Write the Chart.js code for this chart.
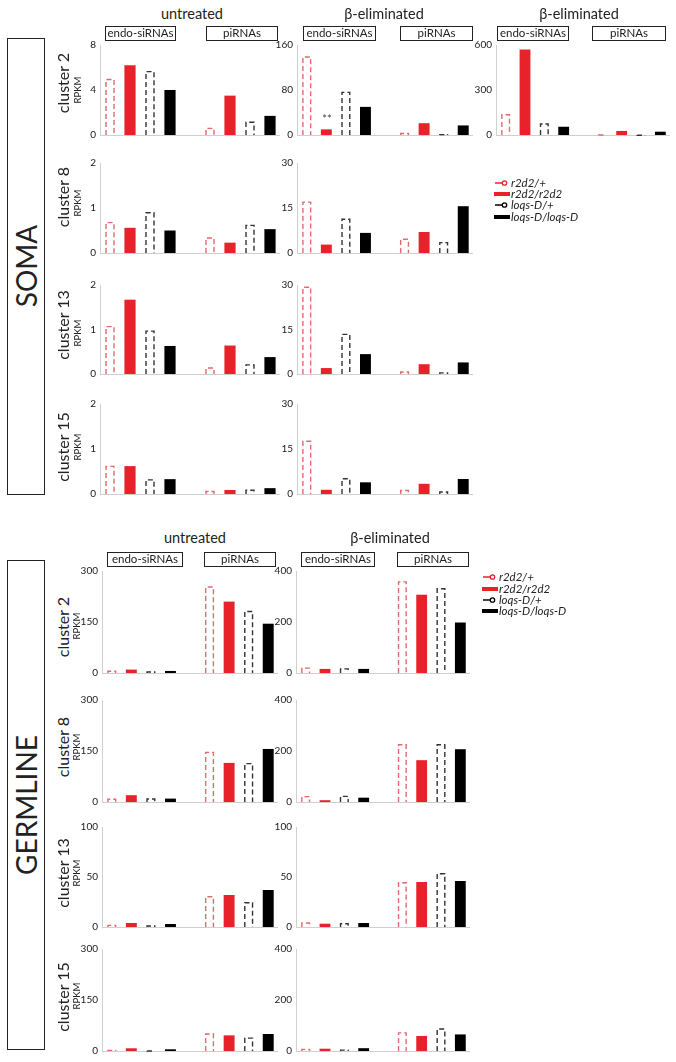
<!DOCTYPE html>
<html>
<head>
<meta charset="utf-8">
<script src="https://cdn.jsdelivr.net/npm/chart.js@4.4.1/dist/chart.umd.min.js"></script>
<style>
  html, body { margin: 0; padding: 0; background: #fff; }
  #root { position: relative; width: 676px; height: 1062px; overflow: hidden; font-family: Lato, "Open Sans", sans-serif; color: #222; }
  .abs { position: absolute; }
  .ctr { position: absolute; transform: translate(-50%, -50%); white-space: nowrap; }
  .rot { position: absolute; transform: translate(-50%, -50%) rotate(-90deg); white-space: nowrap; }
  .box { position: absolute; box-sizing: border-box; border: 1.5px solid #222; text-align: center; font-size: 11.5px; line-height: 12px; }
  .title { font-size: 14.5px; }
  .clu { font-size: 16px; }
  .rpkm { font-size: 9.5px; }
  .big { font-size: 28px; }
  .secbox { position: absolute; box-sizing: border-box; border: 1.5px solid #222; }
  .leg { position: absolute; font-size: 11.5px; font-style: italic; white-space: nowrap; line-height: 12px; }
  canvas { position: absolute; }
</style>
</head>
<body>
<div id="root"></div>
<script>
// ---------------- DATA ----------------
const genotypes = ['r2d2/+', 'r2d2/r2d2', 'loqs-D/+', 'loqs-D/loqs-D'];
const rnaClasses = ['endo-siRNAs', 'piRNAs'];
const rowNames = ['cluster 2', 'cluster 8', 'cluster 13', 'cluster 15'];

// each: [endo-siRNAs values per genotype], [piRNAs values per genotype]  (RPKM)
const somaC2Untreated  = [[5.0, 6.2, 5.7, 4.0], [0.65, 3.5, 1.2, 1.7]];
const somaC2Beta       = [[140, 10, 77, 50], [4, 21, 2, 17]];
const somaC2BetaWide   = [[140, 570, 78, 55], [5, 27, 3, 22]];
const somaC8Untreated  = [[0.69, 0.56, 0.91, 0.50], [0.35, 0.23, 0.63, 0.53]];
const somaC8Beta       = [[17.2, 2.8, 11.5, 6.7], [4.8, 7.0, 3.7, 15.6]];
const somaC13Untreated = [[1.08, 1.67, 0.98, 0.63], [0.15, 0.64, 0.22, 0.38]];
const somaC13Beta      = [[29.5, 2.0, 13.6, 6.7], [0.9, 3.3, 0.6, 3.9]];
const somaC15Untreated = [[0.63, 0.62, 0.33, 0.33], [0.07, 0.09, 0.10, 0.13]];
const somaC15Beta      = [[17.8, 1.4, 5.3, 3.9], [1.4, 3.4, 0.9, 5.0]];

const germC2Untreated  = [[7, 10, 5, 6], [255, 210, 183, 145]];
const germC2Beta       = [[22, 16, 19, 16], [360, 307, 333, 198]];
const germC8Untreated  = [[10, 20, 11, 10], [148, 115, 115, 156]];
const germC8Beta       = [[24, 7, 25, 17], [227, 164, 227, 207]];
const germC13Untreated = [[2.3, 4, 1.7, 3], [31, 32, 25, 37]];
const germC13Beta      = [[4.7, 3.3, 4, 4], [45, 45, 54, 46]];
const germC15Untreated = [[4, 8, 2, 5], [52, 46, 40, 50]];
const germC15Beta      = [[9, 9, 6, 11], [74, 59, 89, 65]];

// y-axis maxima (tick labels at 0, max/2, max)
const somaUntreatedMax = [8, 2, 2, 2];
const somaBetaMax      = [160, 30, 30, 30];
const somaBetaWideMax  = 600;
const germUntreatedMax = [300, 300, 100, 300];
const germBetaMax      = [400, 400, 100, 400];

// ---------------- STYLE ----------------
const RED = '#e8222a', RED_DASH = '#e26a6a', BLACK = '#000', BLACK_DASH = '#333';
const seriesStyle = [
  { dashed: true,  color: RED_DASH },
  { dashed: false, color: RED },
  { dashed: true,  color: BLACK_DASH },
  { dashed: false, color: BLACK }
];

Chart.defaults.font.family = 'Lato, "Open Sans", sans-serif';

const root = document.getElementById('root');

function el(cls, html, css) {
  const d = document.createElement('div');
  d.className = cls;
  d.innerHTML = html;
  Object.assign(d.style, css);
  root.appendChild(d);
  return d;
}

const dashedBars = {
  id: 'dashedBars',
  afterDatasetsDraw(chart) {
    const ctx = chart.ctx;
    chart.data.datasets.forEach((ds, i) => {
      if (!ds.dashed) return;
      const meta = chart.getDatasetMeta(i);
      meta.data.forEach((bar, j) => {
        if (ds.data[j] == null) return;
        const p = bar.getProps(['x', 'y', 'base', 'width'], true);
        const lw = 1.4, inset = 1.6;
        const l = p.x - p.width / 2 + inset, r = p.x + p.width / 2 - inset;
        const t = p.y + lw / 2;
        ctx.save();
        ctx.strokeStyle = ds.dashColor;
        ctx.lineWidth = lw;
        ctx.setLineDash([5, 3]);
        ctx.beginPath();
        ctx.moveTo(l, p.base);
        ctx.lineTo(l, t);
        ctx.lineTo(r, t);
        ctx.lineTo(r, p.base);
        ctx.stroke();
        ctx.restore();
      });
    });
  }
};

const slotLabels = [
  ...genotypes.map(g => rnaClasses[0] + ' ' + g), '',
  ...genotypes.map(g => rnaClasses[1] + ' ' + g)
];

function panel(axisX, width, yTop, yBottom, yMax, values) {
  const LEFT = 30, PAD = 10;
  const c = document.createElement('canvas');
  const W = LEFT + width, H = (yBottom - yTop) + 2 * PAD;
  c.width = W; c.height = H;
  c.style.left = (axisX - LEFT) + 'px';
  c.style.top = (yTop - PAD) + 'px';
  c.style.width = W + 'px'; c.style.height = H + 'px';
  root.appendChild(c);
  const datasets = genotypes.map((g, i) => {
    const data = new Array(9).fill(null);
    data[i] = values[0][i];
    data[5 + i] = values[1][i];
    const st = seriesStyle[i];
    return {
      label: g,
      data,
      dashed: st.dashed,
      dashColor: st.color,
      backgroundColor: st.dashed ? 'rgba(0,0,0,0)' : st.color,
      borderWidth: 0,
      skipNull: true,
      categoryPercentage: 1,
      barPercentage: 0.56
    };
  });
  new Chart(c, {
    type: 'bar',
    data: { labels: slotLabels, datasets },
    options: {
      responsive: false,
      animation: false,
      devicePixelRatio: 1,
      layout: { padding: { top: PAD, bottom: PAD, left: 0, right: 0 } },
      plugins: { legend: { display: false }, tooltip: { enabled: false } },
      scales: {
        x: {
          grid: { display: false, drawTicks: false },
          border: { display: true, color: '#cfcfcf', dash: [1, 2] },
          ticks: { display: false },
          afterFit: s => { s.height = 0; }
        },
        y: {
          min: 0, max: yMax,
          ticks: { stepSize: yMax / 2, padding: 4, color: '#1a1a1a', font: { size: 10 } },
          grid: { display: false, drawTicks: false },
          border: { display: true, color: '#d0d0d0', width: 1 },
          afterFit: s => { s.width = LEFT; }
        }
      }
    },
    plugins: [dashedBars]
  });
}

// ---------------- SOMA ----------------
const somaRows = [[45, 135], [163, 253], [285, 374], [404, 494]];
const somaUntreatedVals = [somaC2Untreated, somaC8Untreated, somaC13Untreated, somaC15Untreated];
const somaBetaVals = [somaC2Beta, somaC8Beta, somaC13Beta, somaC15Beta];
somaRows.forEach((r, k) => {
  panel(100, 180, r[0], r[1], somaUntreatedMax[k], somaUntreatedVals[k]);
  panel(297, 176, r[0], r[1], somaBetaMax[k], somaBetaVals[k]);
});
panel(496, 174, 45, 135, somaBetaWideMax, somaC2BetaWide);

// ---------------- GERMLINE ----------------
const germRows = [[571, 673], [700, 802], [827, 927], [949, 1051]];
const germUntreatedVals = [germC2Untreated, germC8Untreated, germC13Untreated, germC15Untreated];
const germBetaVals = [germC2Beta, germC8Beta, germC13Beta, germC15Beta];
germRows.forEach((r, k) => {
  panel(102, 176, r[0], r[1], germUntreatedMax[k], germUntreatedVals[k]);
  panel(296, 174, r[0], r[1], germBetaMax[k], germBetaVals[k]);
});

// ---------------- TEXT ----------------
// Titles
el('ctr title', 'untreated', { left: '192px', top: '13px' });
el('ctr title', '&beta;-eliminated', { left: '384px', top: '13px' });
el('ctr title', '&beta;-eliminated', { left: '579px', top: '13px' });
el('ctr title', 'untreated', { left: '195px', top: '537px' });
el('ctr title', '&beta;-eliminated', { left: '390px', top: '537px' });

// class boxes
function box(x1, x2, y1, y2, txt) {
  el('box', txt, { left: x1 + 'px', top: y1 + 'px', width: (x2 - x1) + 'px', height: (y2 - y1) + 'px', lineHeight: (y2 - y1 - 3) + 'px' });
}
box(105, 176, 26, 41, rnaClasses[0]);
box(206, 278, 26, 41, rnaClasses[1]);
box(303, 376, 26, 41, rnaClasses[0]);
box(400, 473, 26, 41, rnaClasses[1]);
box(497, 569, 26, 41, rnaClasses[0]);
box(592, 666, 26, 41, rnaClasses[1]);
box(107, 183, 552, 567, rnaClasses[0]);
box(204, 276, 552, 567, rnaClasses[1]);
box(301, 375, 552, 567, rnaClasses[0]);
box(397, 469, 552, 567, rnaClasses[1]);

// row labels
const somaClusterY = [83, 197, 325, 447];
const somaRpkmY = [90, 203, 333, 447];
const germClusterY = [627, 747, 873, 997];
const germRpkmY = [626, 747, 873, 996];
rowNames.forEach((n, k) => {
  el('rot clu', n, { left: '62px', top: somaClusterY[k] + 'px' });
  el('rot rpkm', 'RPKM', { left: '77px', top: somaRpkmY[k] + 'px' });
  el('rot clu', n, { left: '62px', top: germClusterY[k] + 'px' });
  el('rot rpkm', 'RPKM', { left: '76px', top: germRpkmY[k] + 'px' });
});

// section boxes
el('secbox', '', { left: '7px', top: '38px', width: '38px', height: '457px' });
el('rot big', 'SOMA', { left: '26px', top: '266px' });
el('secbox', '', { left: '7px', top: '560px', width: '38px', height: '490px' });
el('rot big', 'GERMLINE', { left: '26px', top: '805px' });

// significance mark
el('ctr', '**', { left: '327px', top: '118px', fontSize: '11px', color: '#444' });

// legends
function legend(x, ys) {
  genotypes.forEach((g, i) => {
    const st = seriesStyle[i];
    const y = ys[i];
    let sym;
    if (st.dashed) {
      sym = `<svg width="16" height="8" style="position:absolute;left:${x}px;top:${y - 4}px">
        <line x1="1" y1="4" x2="8" y2="4" stroke="${i === 0 ? RED : '#000'}" stroke-width="1.5"/>
        <circle cx="10.5" cy="4" r="2.2" fill="#fff" stroke="${i === 0 ? RED : '#000'}" stroke-width="1.3"/></svg>`;
    } else {
      sym = `<svg width="16" height="8" style="position:absolute;left:${x}px;top:${y - 4}px">
        <rect x="0" y="2" width="16" height="4" fill="${st.color}"/></svg>`;
    }
    const d = document.createElement('div');
    d.innerHTML = sym;
    root.appendChild(d.firstElementChild);
    el('leg', g, { left: (x + 17) + 'px', top: (y - 6) + 'px' });
  });
}
legend(494, [183, 194, 205, 216.5]);
legend(482, [577, 589, 600, 611]);
</script>
</body>
</html>
